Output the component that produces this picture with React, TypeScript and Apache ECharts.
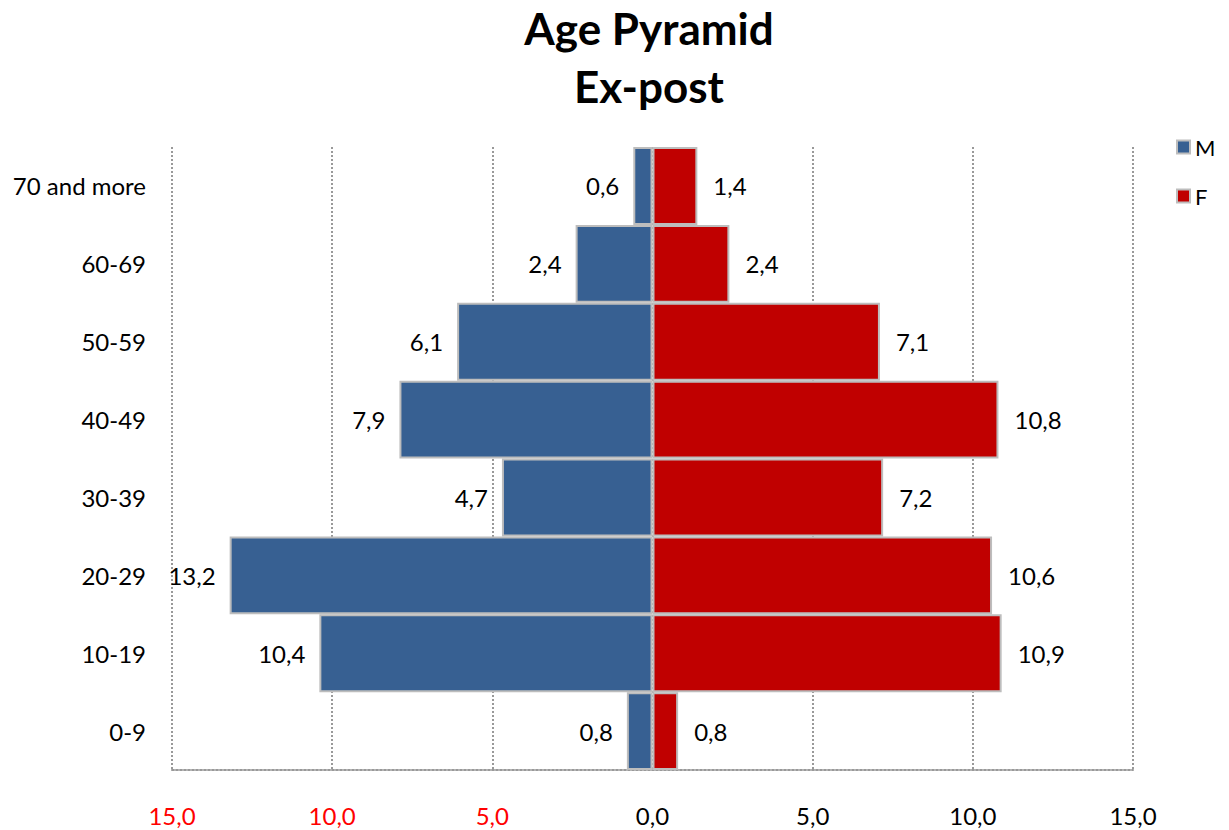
import React, { useEffect, useRef } from "react";
import * as echarts from "echarts";

const categories = ["0-9", "10-19", "20-29", "30-39", "40-49", "50-59", "60-69", "70 and more"];
const maleValues = [0.8, 10.4, 13.2, 4.7, 7.9, 6.1, 2.4, 0.6];
const femaleValues = [0.8, 10.9, 10.6, 7.2, 10.8, 7.1, 2.4, 1.4];
const xTicks = { min: -15, max: 15, interval: 5 };

const FONT = "Lato, 'Noto Sans', sans-serif";
const FS = 24;
const fmt = (v: number) => Math.abs(v).toFixed(1).replace(".", ",");

export default function App() {
  const ref = useRef<HTMLDivElement>(null);
  useEffect(() => {
    if (!ref.current) return;
    const chart = echarts.init(ref.current, undefined, { renderer: "svg" });
    chart.setOption({
      animation: false,
      backgroundColor: "#ffffff",
      textStyle: { fontFamily: FONT },
      title: {
        text: "Age Pyramid\nEx-post",
        left: 644,
        textAlign: "center",
        top: -6,
        textStyle: { fontFamily: FONT, fontSize: 44, fontWeight: "bold", color: "#000", lineHeight: 58 },
      },
      legend: {
        orient: "vertical",
        left: 1171,
        top: 131,
        itemWidth: 13,
        itemHeight: 13,
        itemGap: 27,
        icon: "rect",
        textStyle: { fontFamily: FONT, fontSize: 22, color: "#000" },
        data: ["M", "F"],
      },
      grid: { left: 172, right: 96, top: 147, bottom: 60, containLabel: false },
      xAxis: {
        type: "value",
        min: xTicks.min,
        max: xTicks.max,
        interval: xTicks.interval,
        axisLine: { show: true, lineStyle: { color: "#999", type: "dotted", width: 2 } },
        axisTick: { show: false },
        splitLine: { show: true, lineStyle: { color: "#999", type: "dotted", width: 2 } },
        axisLabel: {
          margin: 33,
          formatter: (v: number) => (v < 0 ? `{neg|${fmt(v)}}` : `{pos|${fmt(v)}}`),
          rich: {
            neg: { color: "#ff0000", fontSize: FS, fontFamily: FONT },
            pos: { color: "#000", fontSize: FS, fontFamily: FONT },
          },
        },
      },
      yAxis: {
        type: "category",
        data: categories,
        axisLine: { show: false },
        axisTick: { show: false },
        splitLine: { show: false },
        axisLabel: { margin: 26, fontSize: FS, color: "#000", fontFamily: FONT },
      },
      series: [
        {
          name: "M",
          type: "bar",
          stack: "pop",
          barCategoryGap: "0%",
          data: maleValues.map((v) => -v),
          itemStyle: { color: "#376092", borderColor: "#bdbdbd", borderWidth: 2 },
          label: {
            show: true,
            position: "left",
            distance: 14,
            formatter: (p: any) => fmt(p.value),
            fontSize: FS,
            color: "#000",
            fontFamily: FONT,
          },
        },
        {
          name: "F",
          type: "bar",
          stack: "pop",
          barCategoryGap: "0%",
          data: femaleValues,
          itemStyle: { color: "#c00000", borderColor: "#bdbdbd", borderWidth: 2 },
          label: {
            show: true,
            position: "right",
            distance: 16,
            formatter: (p: any) => fmt(p.value),
            fontSize: FS,
            color: "#000",
            fontFamily: FONT,
          },
        },
      ],
    });
    return () => chart.dispose();
  }, []);
  return <div ref={ref} style={{ width: 1229, height: 830, position: "absolute", left: 0, top: 0 }} />;
}
